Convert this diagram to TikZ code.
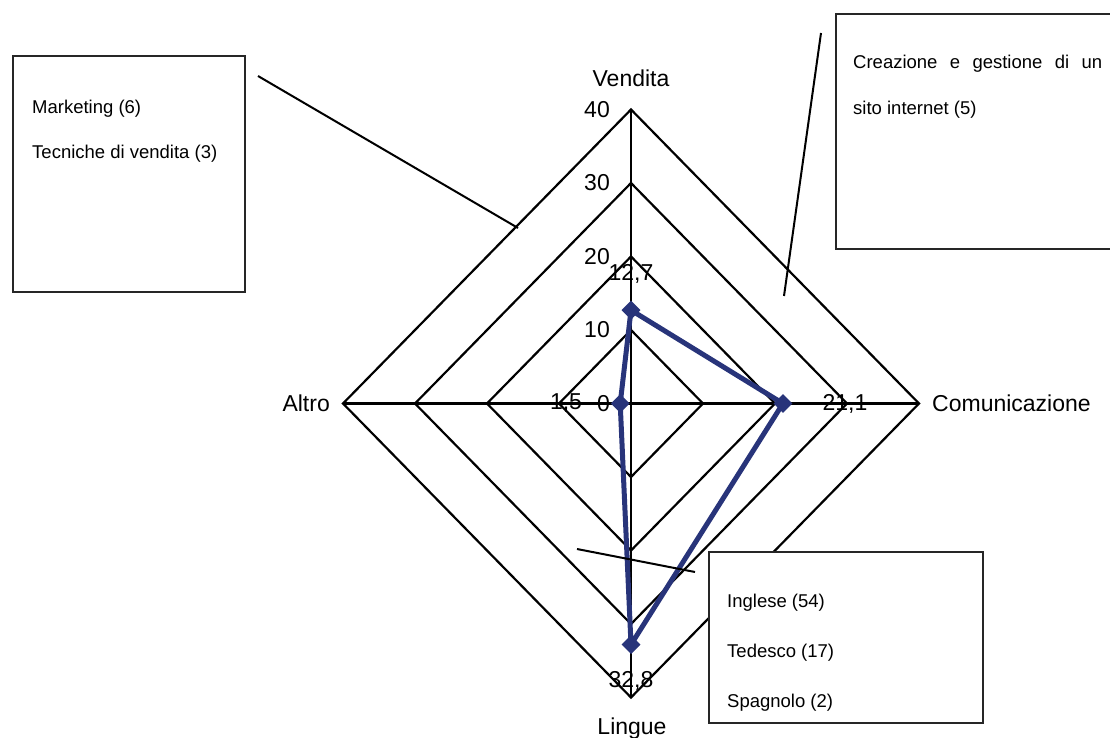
\documentclass[tikz,border=0pt]{standalone}
\usepackage{fontspec}
\setmainfont{Liberation Sans}
\usetikzlibrary{shapes.geometric}
\definecolor{series}{RGB}{40,52,122}

\begin{document}
\begin{tikzpicture}[x=1pt,y=-1pt,
  grid/.style={line width=2.2pt,black,line join=miter},
  lbl/.style={inner sep=0pt,font=\fontsize{23}{27}\selectfont},
  boxtxt/.style={inner sep=0pt,anchor=base west,font=\fontsize{18.5}{22}\selectfont},
  callout/.style={draw=black!85,line width=2.2pt,fill=white,inner sep=0pt,anchor=north west},
  leader/.style={line width=2pt,black},
  series line/.style={series,line width=5pt,line join=round},
  marker/.style={diamond,fill=series,inner sep=0pt,minimum size=19pt}]

\clip (0,0) rectangle (1110,738);

% radar grid: centre and unit lengths along the two axes
\def\cx{631}
\def\cy{403.5}
\def\sx{7.2}
\def\sy{7.35}

\coordinate (O) at (\cx,\cy);
\coordinate (top) at (\cx,\cy-\sy*40);
\coordinate (bottom) at (\cx,\cy+\sy*40);
\coordinate (left) at (\cx-\sx*40,\cy);
\coordinate (right) at (\cx+\sx*40,\cy);

\foreach \r in {10,20,30,40}
  \draw[grid] (\cx,\cy-\sy*\r) -- (\cx+\sx*\r,\cy) -- (\cx,\cy+\sy*\r) -- (\cx-\sx*\r,\cy) -- cycle;
\draw[grid] (top) -- (bottom);
\draw[grid] (left) -- (right);

% scale labels on the upper axis
\foreach \r in {0,10,20,30,40}
  \node[lbl,anchor=east] (t\r) at (610,\cy-\sy*\r) {\r};

% axis names
\node[lbl,anchor=base] (vendita) at (631,87) {Vendita};
\node[lbl,anchor=base west] (comunicazione) at (932,411.7) {Comunicazione};
\node[lbl,anchor=base east] (altro) at (330,411.7) {Altro};
\node[lbl,anchor=base] (lingue) at (632,734) {Lingue};

% data series
\coordinate (pV) at (\cx,\cy-\sy*12.7);
\coordinate (pC) at (\cx+\sx*21.1,\cy);
\coordinate (pL) at (\cx,\cy+\sy*32.8);
\coordinate (pA) at (\cx-\sx*1.5,\cy);
\draw[series line] (pV) -- (pC) -- (pL) -- (pA) -- cycle;
\foreach \p in {pV,pC,pL,pA}
  \node[marker] (m\p) at (\p) {};

% data values
\node[lbl] (vV) at (631,273.5) {12,7};
\node[lbl] (vC) at (845,\cy) {21,1};
\node[lbl] (vA) at (566,\cy) {1,5};
\node[lbl] (vL) at (631,681) {32,8};

% callout boxes
\node[callout,minimum width=232pt,minimum height=236pt] (boxV) at (12,55) {};
\node[boxtxt] (mk) at (32,114) {Marketing (6)};
\node[boxtxt] (tv) at (32,159) {Tecniche di vendita (3)};

\node[callout,minimum width=300pt,minimum height=235pt] (boxC) at (835,13) {};
\node[boxtxt] (cr) at (853,69) {\makebox[249pt][s]{Creazione e gestione di un}};
\node[boxtxt] (si) at (853,115) {sito internet (5)};

\node[callout,minimum width=274pt,minimum height=171pt] (boxL) at (708,551) {};
\node[boxtxt] (en) at (727,607) {Inglese (54)};
\node[boxtxt] (de) at (727,657) {Tedesco (17)};
\node[boxtxt] (es) at (727,707) {Spagnolo (2)};

% leader lines from the boxes into the chart
\coordinate (a1) at (258,76);
\coordinate (a2) at (518,228);
\coordinate (b1) at (821,33);
\coordinate (b2) at (784,296);
\coordinate (c1) at (577,549);
\coordinate (c2) at (695,572);
\draw[leader] (a1) -- (a2);
\draw[leader] (b1) -- (b2);
\draw[leader] (c1) -- (c2);
\end{tikzpicture}
\end{document}
